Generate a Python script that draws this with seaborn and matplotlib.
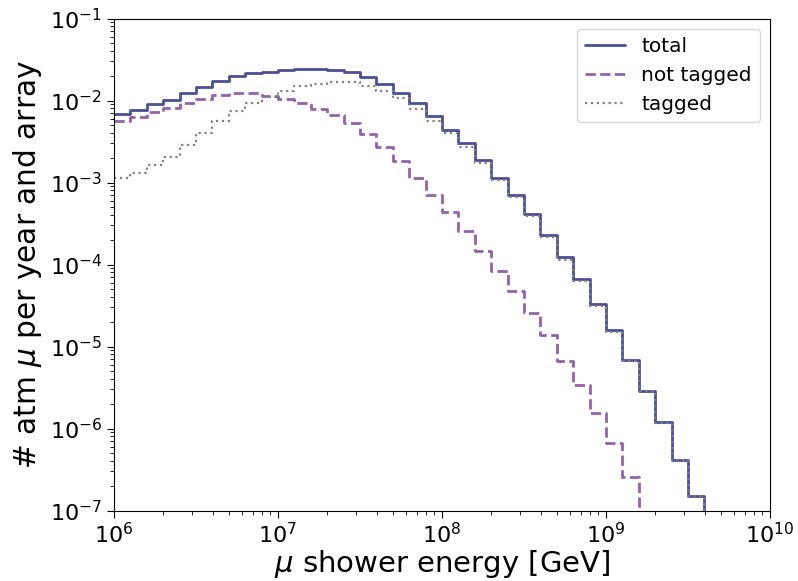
import numpy as np
import pandas as pd
import matplotlib
matplotlib.use("Agg")
import matplotlib.pyplot as plt
import seaborn as sns

# log10 bin edges: 10 bins per decade from 1e6 to 1e10
log_edges = [6.0 + 0.1 * k for k in range(41)]

total = [6.8e-3, 7.6e-3, 9.0e-3, 1.01e-2, 1.22e-2, 1.45e-2, 1.73e-2, 1.97e-2, 2.14e-2, 2.25e-2,
         2.35e-2, 2.43e-2, 2.42e-2, 2.37e-2, 2.20e-2, 1.95e-2, 1.58e-2, 1.24e-2, 9.2e-3, 6.4e-3,
         4.42e-3, 2.99e-3, 1.89e-3, 1.14e-3, 7.1e-4, 4.1e-4, 2.29e-4, 1.22e-4, 6.6e-5, 3.28e-5,
         1.57e-5, 6.9e-6, 2.9e-6, 1.19e-6, 4.1e-7, 1.51e-7, 0, 0, 0, 0]

not_tagged = [5.65e-3, 6.25e-3, 7.3e-3, 8.05e-3, 9.2e-3, 1.03e-2, 1.16e-2, 1.22e-2, 1.23e-2, 1.12e-2,
              1.04e-2, 9.3e-3, 7.95e-3, 6.6e-3, 5.25e-3, 3.9e-3, 2.72e-3, 1.82e-3, 1.14e-3, 7.0e-4,
              4.38e-4, 2.55e-4, 1.48e-4, 8.4e-5, 4.77e-5, 2.55e-5, 1.38e-5, 6.6e-6, 3.35e-6, 1.56e-6,
              6.7e-7, 2.57e-7, 0, 0, 0, 0, 0, 0, 0, 0]

tagged = [1.15e-3, 1.31e-3, 1.63e-3, 2.06e-3, 2.85e-3, 4.07e-3, 5.65e-3, 7.4e-3, 9.2e-3, 1.11e-2,
          1.30e-2, 1.51e-2, 1.61e-2, 1.68e-2, 1.67e-2, 1.51e-2, 1.31e-2, 1.06e-2, 7.9e-3, 5.65e-3,
          3.98e-3, 2.73e-3, 1.74e-3, 1.06e-3, 6.6e-4, 3.85e-4, 2.15e-4, 1.15e-4, 6.25e-5, 3.12e-5,
          1.50e-5, 6.65e-6, 2.88e-6, 1.18e-6, 4.1e-7, 1.5e-7, 0, 0, 0, 0]

labels = ["total", "not tagged", "tagged"]
colors = ["#4b4f93", "#9561a8", "#808080"]
styles = ["-", "--", ":"]
widths = [2.0, 2.0, 1.6]

sns.set_style("ticks")
plt.rcParams["font.family"] = ["DejaVu Sans"]
plt.rcParams["text.color"] = "black"
plt.rcParams["axes.labelcolor"] = "black"
plt.rcParams["xtick.color"] = "black"
plt.rcParams["ytick.color"] = "black"
plt.rcParams["axes.edgecolor"] = "black"

fig = plt.figure(figsize=(7.98, 5.81), dpi=100)
ax = fig.add_axes([114 / 798, 1 - 510.5 / 581, (770 - 114) / 798, (510.5 - 18.5) / 581])

edges = np.power(10.0, log_edges)
for vals, lab, c, ls, lw in zip([total, not_tagged, tagged], labels, colors, styles, widths):
    y = list(vals) + [vals[-1]]
    df = pd.DataFrame({"E": edges, "N": y})
    sns.lineplot(data=df, x="E", y="N", ax=ax, drawstyle="steps-post", color=c,
                 linestyle=ls, linewidth=lw, label=lab, sort=False, estimator=None)

ax.set_xscale("log")
ax.set_yscale("log")
ax.set_xlim(1e6, 1e10)
ax.set_ylim(1e-7, 1e-1)
ax.set_xlabel(r"$\mu$ shower energy [GeV]", fontsize=21, labelpad=0.5)
ax.set_ylabel(r"# atm $\mu$ per year and array", fontsize=21.3)
ax.tick_params(axis="both", which="major", labelsize=16, length=5, color="black", labelcolor="black")
ax.tick_params(axis="both", which="minor", length=3, color="black")
for s in ax.spines.values():
    s.set_color("black")
leg = ax.legend(loc="upper right", fontsize=14.5, frameon=True)
for t in leg.get_texts():
    t.set_color("black")

fig.savefig("out.png", dpi=100)
